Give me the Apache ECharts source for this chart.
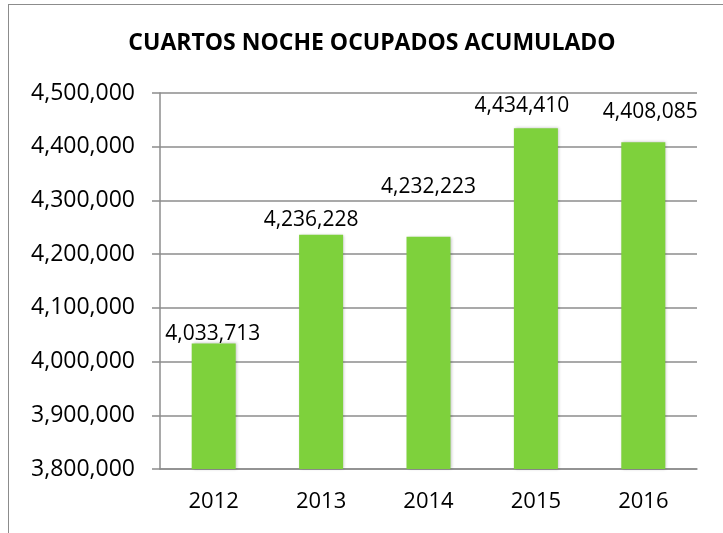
<!DOCTYPE html>
<html>
<head>
<meta charset="utf-8">
<script src="https://cdn.jsdelivr.net/npm/echarts@6/dist/echarts.min.js"></script>
<style>
  html, body { margin: 0; padding: 0; background: #fff; overflow: hidden; }
  #chart { position: absolute; left: 0; top: 0; width: 723px; height: 533px; }
  #frame {
    position: absolute; left: 8px; top: 4px; width: 800px; height: 600px;
    border: 1.5px solid #8c8c8c; pointer-events: none;
  }
</style>
</head>
<body>
<div id="chart"></div>
<div id="frame"></div>
<script>
const years  = ['2012', '2013', '2014', '2015', '2016']
const cuartos = [4033713, 4236228, 4232223, 4434410, 4408085]
const yTicks = [3800000, 3900000, 4000000, 4100000, 4200000, 4300000, 4400000, 4500000]

// label nudges as placed in the original sheet (style only)
const labelNudge = [[-1, 1.5], [-10, -4], [0, -39], [-14, -12], [7, -20]]

const fmt = (v) => v.toLocaleString('en-US')
const font = '"Open Sans", sans-serif'

const chart = echarts.init(document.getElementById('chart'))

chart.setOption({
  backgroundColor: '#fff',
  animation: false,
  title: {
    text: 'CUARTOS NOCHE OCUPADOS ACUMULADO',
    left: 367, top: 27, textAlign: 'center',
    textStyle: { fontFamily: font, fontWeight: 'bold', fontSize: 23, color: '#000' }
  },
  grid: { left: 160, right: 26, top: 93, bottom: 64 },
  xAxis: {
    type: 'category',
    data: years,
    axisLine: { lineStyle: { color: '#8c8c8c', width: 1.5 } },
    axisTick: { length: 6, lineStyle: { color: '#8c8c8c', width: 1.5 } },
    axisLabel: { color: '#000', fontFamily: font, fontSize: 22, margin: 22 }
  },
  yAxis: {
    type: 'value',
    min: yTicks[0],
    max: yTicks[yTicks.length - 1],
    interval: 100000,
    axisLine: { show: true, lineStyle: { color: '#8c8c8c', width: 1.5 } },
    axisTick: { show: true, length: 8, lineStyle: { color: '#8c8c8c', width: 1.5 } },
    axisLabel: { color: '#000', fontFamily: font, fontSize: 23, margin: 25, formatter: fmt },
    splitLine: { lineStyle: { color: '#8c8c8c', width: 1.5 } }
  },
  series: [{
    type: 'bar',
    barWidth: 44,
    itemStyle: {
      color: '#7ed13c',
      shadowColor: 'rgba(0,0,0,0.25)',
      shadowBlur: 3,
      shadowOffsetX: 1
    },
    data: cuartos.map((v, i) => ({
      value: v,
      label: { offset: labelNudge[i] }
    })),
    label: {
      show: true,
      position: 'top',
      distance: 0,
      color: '#000',
      fontFamily: font,
      fontSize: 21,
      formatter: (p) => fmt(p.value)
    }
  }]
})
</script>
</body>
</html>
